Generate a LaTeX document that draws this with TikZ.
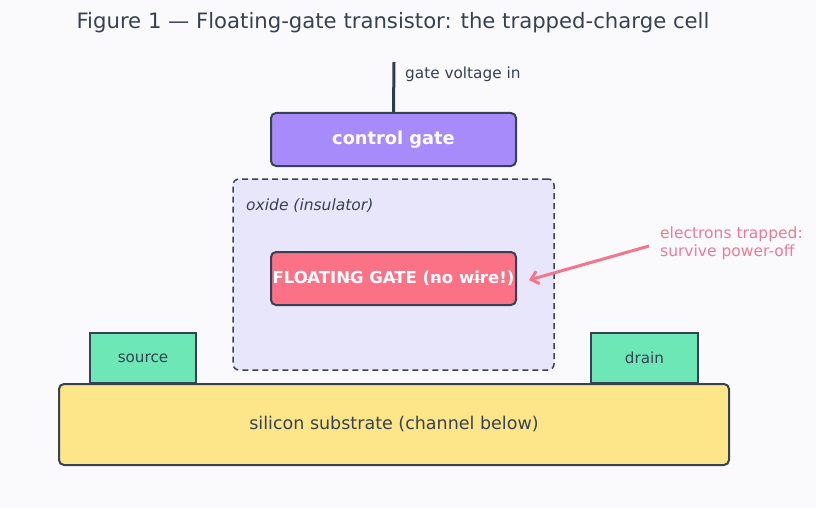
\documentclass[tikz,border=0pt]{standalone}
\usepackage{fontspec}
\setmainfont{DejaVu Sans}
\usetikzlibrary{arrows.meta}
\definecolor{bgc}{HTML}{FAFAFD}
\definecolor{ink}{HTML}{374151}
\definecolor{wire}{HTML}{2E3B52}
\definecolor{cgfill}{HTML}{A78BFA}
\definecolor{oxfill}{HTML}{E8E6FA}
\definecolor{oxline}{HTML}{3F3F5C}
\definecolor{fgfill}{HTML}{FB7185}
\definecolor{note}{HTML}{F4768C}
\definecolor{notetext}{HTML}{EF7A92}
\definecolor{green}{HTML}{6EE7B7}
\definecolor{sub}{HTML}{FDE68A}
\tikzset{
  gatebox/.style={draw=ink, line width=2pt, rounded corners=5pt, minimum width=245pt, minimum height=53pt, inner sep=0pt, text=white, font=\fontsize{16.5}{19}\selectfont\bfseries},
  contact/.style={draw=ink, line width=2pt, fill=green, minimum width=106pt, minimum height=50pt, inner sep=0pt, text=ink, font=\fontsize{15.2}{17}\selectfont},
  plain/.style={inner sep=0pt, text=ink},
}
\begin{document}
\begin{tikzpicture}[x=1pt,y=-1pt]
\fill[bgc] (0,0) rectangle (816,508);
\useasboundingbox (0,0) rectangle (816,508);
\node[plain, font=\fontsize{21.2}{24}\selectfont] (title) at (393,23) {Figure 1 — Floating-gate transistor: the trapped-charge cell};
% oxide
\node[draw=oxline, line width=1.5pt, dashed, dash pattern=on 6pt off 4pt, fill=oxfill, rounded corners=6pt, minimum width=321pt, minimum height=191pt, inner sep=0pt] (ox) at (393.5,274.5) {};
\node[plain, anchor=west, font=\fontsize{15.5}{17}\selectfont\itshape] (oxl) at (246,206) {oxide (insulator)};
% substrate
\node[draw=ink, line width=2pt, fill=sub, rounded corners=5pt, minimum width=670pt, minimum height=81pt, inner sep=0pt, text=ink, font=\fontsize{17.5}{20}\selectfont] (sub) at (394,424.5) {silicon substrate (channel below)};
% contacts
\node[contact] (src) at (143,358) {source};
\node[contact, minimum width=107pt] (drn) at (644.5,358) {drain};
% gates
\node[gatebox, fill=cgfill, font=\fontsize{17.8}{20}\selectfont\bfseries] (cg) at (393.5,139.5) {control gate};
\node[gatebox, fill=fgfill] (fg) at (393.5,278.5) {FLOATING GATE (no wire!)};
\foreach \dx in {-84,-42,0,42,84}
  \draw[white, line width=1.5pt] ([xshift=\dx pt-4.5pt, yshift=-1pt]fg.center) -- ([xshift=\dx pt+4.5pt, yshift=-1pt]fg.center);
% gate wire
\coordinate (gv) at (394,62);
\draw[wire, line width=3pt] (gv) -- (cg.north);
\node[plain, anchor=west, font=\fontsize{15.3}{17}\selectfont] (gvl) at (405,74) {gate voltage in};
% annotation
\coordinate (na) at (649,246);
\draw[note, line width=3pt, -{Straight Barb[length=7pt,width=13pt]}] (na) -- ([xshift=12pt,yshift=-1.5pt]fg.east);
\node[inner sep=0pt, anchor=west, align=left, text=notetext, font=\fontsize{15.5}{18}\selectfont] (nl) at (660,243.5) {electrons trapped:\\survive power-off};
\end{tikzpicture}
\end{document}
